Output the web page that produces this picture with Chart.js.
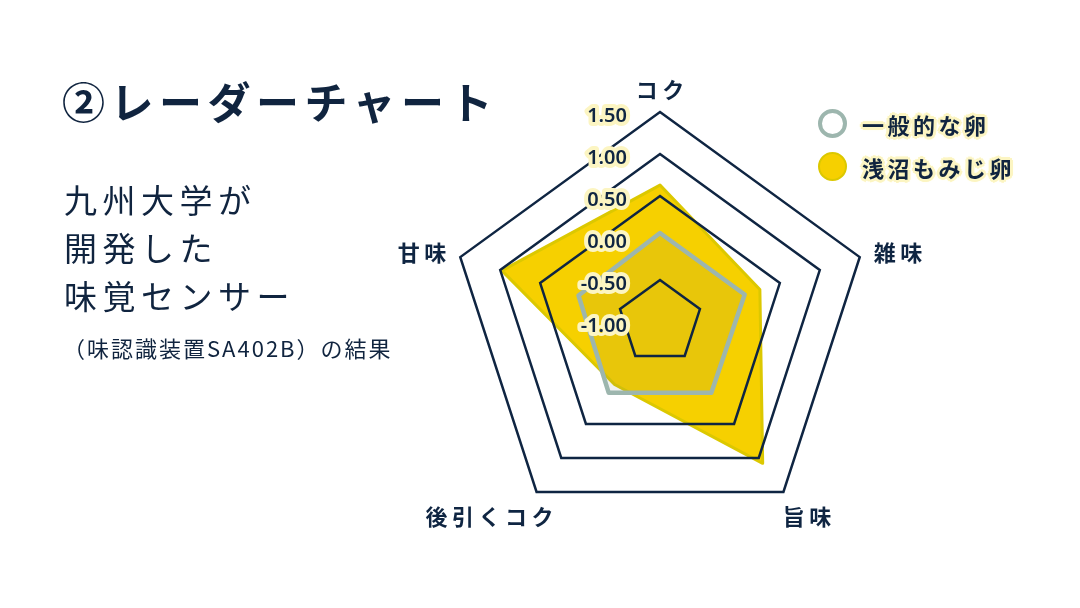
<!DOCTYPE html>
<html lang="ja">
<head>
<meta charset="utf-8">
<script src="https://cdn.jsdelivr.net/npm/chart.js@4.4.1/dist/chart.umd.min.js"></script>
<style>
html,body{margin:0;padding:0;background:#ffffff;width:1080px;height:608px;overflow:hidden;}
body{font-family:"Noto Sans CJK JP","Noto Sans",sans-serif;color:#10243f;}
#wrap{position:relative;width:1080px;height:608px;}
#chart{position:absolute;left:0;top:0;z-index:1;}
#title{position:absolute;left:62px;top:70px;font-size:43px;font-weight:700;letter-spacing:5.5px;line-height:60px;white-space:nowrap;z-index:2;}
#desc{position:absolute;left:64px;top:175px;font-size:33px;line-height:48px;letter-spacing:5.5px;font-weight:400;white-space:nowrap;z-index:2;}
#note{position:absolute;left:63px;top:331px;font-size:22px;line-height:32px;letter-spacing:2px;white-space:nowrap;z-index:2;}
#legend{position:absolute;left:818px;top:102px;z-index:2;}
.item{display:flex;align-items:center;height:43px;}
.dot{width:29px;height:29px;border-radius:50%;box-sizing:border-box;margin-right:15px;}
.lbl{font-size:22px;font-weight:700;letter-spacing:3.5px;color:#10243f;
text-shadow:3px 0 0 #fcf5c2,-3px 0 0 #fcf5c2,0 3px 0 #fcf5c2,0 -3px 0 #fcf5c2,2px 2px 0 #fcf5c2,-2px 2px 0 #fcf5c2,2px -2px 0 #fcf5c2,-2px -2px 0 #fcf5c2,0 0 5px #fcf5c2;}
</style>
</head>
<body>
<div id="wrap">
  <canvas id="chart" width="1080" height="608"></canvas>
  <div id="title">②レーダーチャート</div>
  <div id="desc">九州大学が<br>開発した<br>味覚センサー</div>
  <div id="note">（味認識装置SA402B）の結果</div>
  <div id="legend"></div>
</div>
<script>
// ---- data ----
const categories = ['コク', '雑味', '旨味', '後引くコク', '甘味'];
const seriesNames = ['一般的な卵', '浅沼もみじ卵'];
const generalEgg = [0.06, 0.06, 0.04, 0.04, 0.02];
const asanumaEgg = [0.63, 0.25, 1.08, -0.08, 0.98];
const scaleMin = -1.0;
const scaleMax = 1.5;
const scaleStep = 0.5;
const tickLabels = ['-1.00', '-0.50', '0.00', '0.50', '1.00', '1.50'];

// ---- styles ----
const navy = '#0f2542';
const glow = '#fcf5c2';
const seriesStyles = [
  {border: '#9db6ae', fill: 'rgba(110,120,100,0.10)', width: 4.5},
  {border: '#dcc800', fill: '#f6d000', width: 3}
];

// legend (HTML, built from the series)
const legendEl = document.getElementById('legend');
seriesNames.forEach((name, i) => {
  const st = seriesStyles[i];
  const item = document.createElement('div');
  item.className = 'item';
  const dot = document.createElement('span');
  dot.className = 'dot';
  if (i === 0) {
    dot.style.border = '4.5px solid ' + st.border;
    dot.style.background = '#ffffff';
  } else {
    dot.style.border = '2.5px solid ' + st.border;
    dot.style.background = st.fill;
  }
  const lbl = document.createElement('span');
  lbl.className = 'lbl';
  lbl.textContent = name;
  item.appendChild(dot);
  item.appendChild(lbl);
  legendEl.appendChild(item);
});

// plugin: tick labels with glow + point labels
const labelPlugin = {
  id: 'radarLabels',
  afterDraw(chart) {
    const scale = chart.scales.r;
    const ctx = chart.ctx;
    ctx.save();
    // point labels
    ctx.font = '700 22px "Noto Sans CJK JP", sans-serif';
    ctx.fillStyle = navy;
    ctx.textAlign = 'center';
    ctx.textBaseline = 'middle';
    const spacing = 4.5;
    ctx.letterSpacing = spacing + 'px';
    const gap = 16;
    categories.forEach((lab, i) => {
      const a = scale.getIndexAngle(i) - Math.PI / 2;
      const p = scale.getPointPosition(i, scale.drawingArea + gap);
      const w = ctx.measureText(lab).width - spacing;
      const h = 20;
      const cx = p.x + Math.cos(a) * w / 2;
      const cy = p.y + Math.sin(a) * h / 2 + 4;
      ctx.fillText(lab, cx + spacing / 2, cy);
    });
    ctx.letterSpacing = '0px';
    // tick labels
    ctx.font = '600 20px "Noto Sans", sans-serif';
    ctx.textAlign = 'right';
    ctx.textBaseline = 'middle';
    ctx.lineJoin = 'round';
    ctx.lineWidth = 8;
    ctx.strokeStyle = glow;
    scale.ticks.forEach((t, i) => {
      const d = scale.getDistanceFromCenterForValue(t.value);
      const x = scale.xCenter - 33;
      const y = scale.yCenter - d + 4;
      const txt = tickLabels[i] !== undefined ? tickLabels[i] : t.value.toFixed(2);
      ctx.strokeText(txt, x, y);
      ctx.fillStyle = navy;
      ctx.fillText(txt, x, y);
    });
    ctx.restore();
  }
};

const ctx = document.getElementById('chart').getContext('2d');
new Chart(ctx, {
  type: 'radar',
  data: {
    labels: categories,
    datasets: [
      {
        label: seriesNames[0],
        data: generalEgg,
        borderColor: seriesStyles[0].border,
        backgroundColor: seriesStyles[0].fill,
        borderWidth: seriesStyles[0].width,
        borderJoinStyle: 'round',
        fill: 'start',
        pointRadius: 0
      },
      {
        label: seriesNames[1],
        data: asanumaEgg,
        borderColor: seriesStyles[1].border,
        backgroundColor: seriesStyles[1].fill,
        borderWidth: seriesStyles[1].width,
        borderJoinStyle: 'round',
        fill: 'start',
        pointRadius: 0
      }
    ]
  },
  options: {
    responsive: false,
    animation: false,
    devicePixelRatio: 1,
    layout: {padding: {left: 450, right: 210, top: 112, bottom: 76}},
    plugins: {legend: {display: false}, tooltip: {enabled: false}},
    elements: {line: {tension: 0}},
    scales: {
      r: {
        min: scaleMin,
        max: scaleMax,
        ticks: {display: false, stepSize: scaleStep},
        angleLines: {display: false},
        pointLabels: {display: false},
        grid: {
          z: 1,
          lineWidth: 2.5,
          color: (c) => (c.tick && Math.abs(c.tick.value) < 1e-9) ? 'rgba(0,0,0,0)' : navy
        }
      }
    }
  },
  plugins: [labelPlugin]
});
</script>
</body>
</html>
